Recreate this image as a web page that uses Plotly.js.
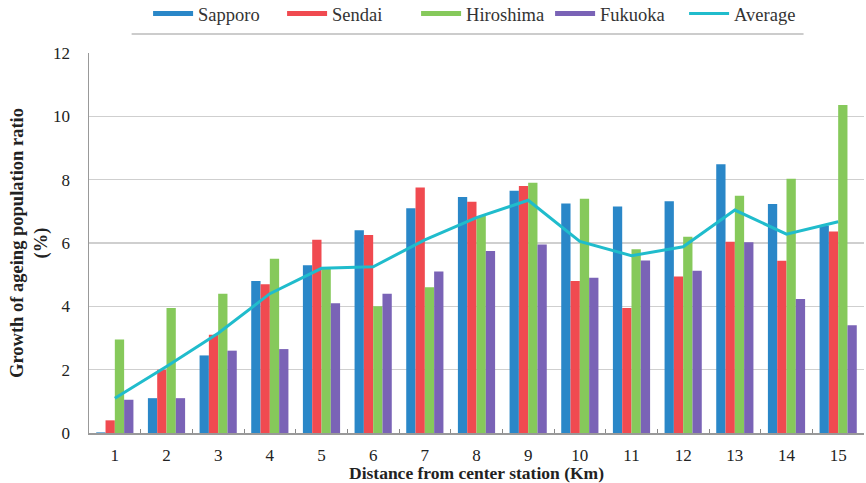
<!DOCTYPE html>
<html>
<head>
<meta charset="utf-8">
<script src="https://cdn.plot.ly/plotly-3.0.1.min.js"></script>
<style>body{margin:0;background:#fff}#chart{width:866px;height:483px}</style>
</head>
<body>
<div id="chart"></div>
<script>
const distances = ["1","2","3","4","5","6","7","8","9","10","11","12","13","14","15"];
const sapporo   = [0.02,1.1,2.45,4.8,5.3,6.4,7.1,7.45,7.65,7.25,7.15,7.32,8.49,7.23,6.55];
const sendai    = [0.4,2.0,3.1,4.7,6.1,6.25,7.75,7.3,7.8,4.8,3.95,4.94,6.04,5.44,6.36];
const hiroshima = [2.95,3.95,4.4,5.5,5.2,4.0,4.6,6.85,7.9,7.4,5.8,6.2,7.49,8.03,10.36];
const fukuoka   = [1.05,1.1,2.6,2.65,4.1,4.4,5.1,5.75,5.95,4.9,5.45,5.12,6.02,4.23,3.4];
const average   = [1.1,2.1,3.15,4.4,5.2,5.25,6.1,6.8,7.35,6.05,5.6,5.88,7.04,6.28,6.67];

const seriesNames = ['Sapporo','Sendai','Hiroshima','Fukuoka'];
const seriesColors = ['#2a87c8','#f04a50','#86c95b','#7a63b6'];
const seriesValues = [sapporo, sendai, hiroshima, fukuoka];
const avgColor = '#20bccc';

const font = 'Times New Roman, Liberation Serif, DejaVu Serif, serif';
const traces = [];
seriesNames.forEach((n, i) => {
  traces.push({type:'bar', name:n, x:distances, y:seriesValues[i], marker:{color:seriesColors[i]},
               legendgroup:n, showlegend:false});
});
// legend keys drawn as wide bands, like the reference's legend
seriesNames.forEach((n, i) => {
  traces.push({type:'scatter', mode:'lines', name:n, x:[null], y:[null], legendgroup:n,
               line:{color:seriesColors[i], width:5}, hoverinfo:'skip'});
});
traces.push({type:'scatter', mode:'lines', name:'Average', x:distances, y:average,
             line:{color:avgColor, width:3}});

const layout = {
  width:866, height:483,
  margin:{l:89, r:2, t:53, b:50},
  paper_bgcolor:'#fff', plot_bgcolor:'#fff',
  font:{family:font, size:17, color:'#222'},
  barmode:'group', bargap:0.28, bargroupgap:0,
  showlegend:true,
  legend:{orientation:'h', x:0.171, xanchor:'left', xref:'container', y:0.971, yanchor:'middle', yref:'container',
          bgcolor:'rgba(0,0,0,0)', entrywidth:79, entrywidthmode:'pixels',
          font:{family:font, size:18.5, color:'#333'}, traceorder:'normal', itemwidth:40,
          tracegroupgap:0},
  xaxis:{type:'category', tickson:'boundaries', ticks:'inside', ticklen:4, tickcolor:'#888',
         showline:true, linecolor:'#999', linewidth:1.5, showgrid:false,
         ticklabelstandoff:6,
         tickfont:{family:font, size:17, color:'#222'},
         title:{text:'<b>Distance from center station (Km)</b>', font:{family:font, size:17.5, color:'#222'}, standoff:13}},
  yaxis:{range:[0,12], dtick:2, showgrid:true, gridcolor:'#cfcfcf', gridwidth:1.5,
         showline:true, linecolor:'#999', linewidth:1.5, zeroline:false,
         ticks:'', ticklabelstandoff:14,
         tickfont:{family:font, size:17, color:'#222'},
         title:{text:'<b>Growth of ageing population ratio<br>(%)</b>', font:{family:font, size:18.5, color:'#222'}, standoff:0}},
  shapes:[{type:'line', xref:'paper', yref:'paper', x0:0.055, x1:0.922, y0:1.05, y1:1.05,
           line:{color:'#bbb', width:1.5}}]
};
Plotly.newPlot('chart', traces, layout, {displayModeBar:false, staticPlot:true});
</script>
</body>
</html>
